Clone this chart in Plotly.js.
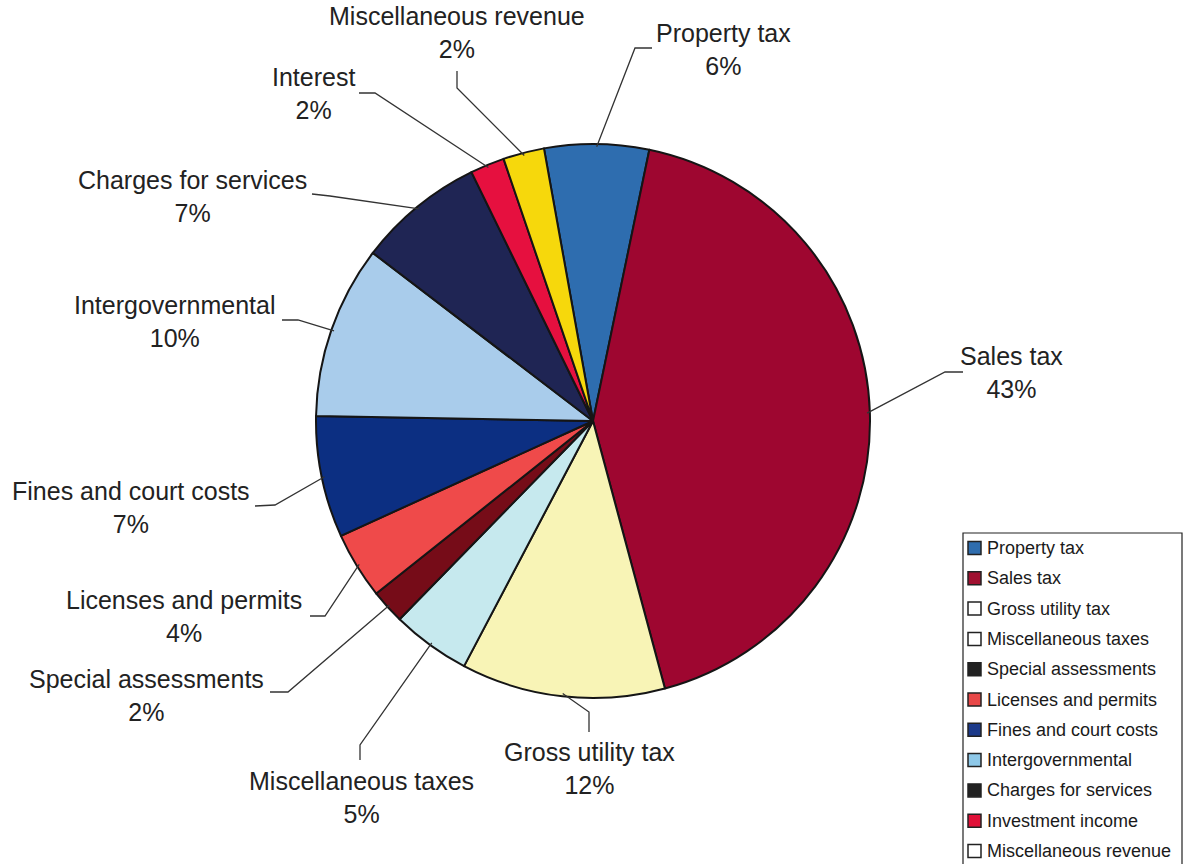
<!DOCTYPE html>
<html><head><meta charset="utf-8">
<script src="https://cdn.plot.ly/plotly-3.0.1.min.js"></script>
<style>html,body{margin:0;padding:0;background:#fff}</style>
</head><body><div id="chart" style="width:1187px;height:864px"></div>
<script>
// ---- data ----
const categories = ["Property tax","Sales tax","Gross utility tax","Miscellaneous taxes","Special assessments","Licenses and permits","Fines and court costs","Intergovernmental","Charges for services","Interest","Miscellaneous revenue"];
const values = [6.1, 42.6, 11.9, 4.6, 2.0, 3.9, 7.1, 10.1, 7.4, 2.0, 2.4];
const legendLabels = ["Property tax","Sales tax","Gross utility tax","Miscellaneous taxes","Special assessments","Licenses and permits","Fines and court costs","Intergovernmental","Charges for services","Investment income","Miscellaneous revenue"];

// ---- styles ----
const sliceColors = ["#2E6DAF","#9E0630","#F8F4B6","#C6E9EE","#760C18","#EF4A4A","#0C2F82","#A9CCEB","#1F2554","#E6103F","#F6D80C"];
const legendColors = ["#2F6DAE","#A01030","#FFFFFF","#FFFFFF","#222222","#E84848","#1C3A8A","#8EC8E8","#222222","#E01038","#FFFFFF"];

const W = 1187, H = 864;
const CX = 593, CY = 421, R = 277;
const ROT = -10.2;
const px = x => x / W, py = y => 1 - y / H;

// label layout (pixel positions of text centres and leader-line starts/elbows)
const labelPos = [[723,49],[1012,372],[589,768],[361,797],[146,695],[184,616],[131,508],[175,321],[192,196],[313,94],[457,33]];
const leaderStart = [[652,48],[963,372],[589,732],[360,760],[270,692],[310,616],[255,506],[282,320],[312,194],[359,93],[457,71]];
const leaderElbow = [[635,48],[945,372],[589,712],[360,745],[288,692],[325,616],[275,505],[298,320],[330,196],[375,93],[457,88]];

const total = values.reduce((a,b)=>a+b,0);
const annotations = [], shapes = [];
const txtFont = {family:"Liberation Sans, Arial, sans-serif", size:25, color:"#222"};

let ang = ROT;
values.forEach((v,i)=>{
  const span = v/total*360;
  const mid = (ang + span/2) * Math.PI/180;
  ang += span;
  const ex = CX + R*0.99*Math.sin(mid), ey = CY - R*0.99*Math.cos(mid);
  const pct = Math.round(v/total*100) + "%";
  annotations.push({xref:"paper",yref:"paper",x:px(labelPos[i][0]),y:py(labelPos[i][1]),
    xanchor:"center",yanchor:"middle",showarrow:false,align:"center",
    text:categories[i]+"<br>"+pct,font:txtFont});
  const s = leaderStart[i], e = leaderElbow[i];
  shapes.push({type:"path",xref:"paper",yref:"paper",
    path:`M${px(s[0])},${py(s[1])} L${px(e[0])},${py(e[1])} L${px(ex)},${py(ey)}`,
    line:{color:"#333",width:1.3}});
});

// legend (custom box)
const LX0 = 963, LY0 = 533, LX1 = 1182, LSTEP = 30.3, LFIRST = 548;
shapes.push({type:"rect",xref:"paper",yref:"paper",x0:px(LX0),x1:px(LX1),y0:py(LY0),y1:py(H+10),
  line:{color:"#222",width:1.2},fillcolor:"rgba(0,0,0,0)"});
legendLabels.forEach((lab,i)=>{
  const yc = LFIRST + i*LSTEP;
  shapes.push({type:"rect",xref:"paper",yref:"paper",x0:px(968),x1:px(981),y0:py(yc-6.5),y1:py(yc+6.5),
    line:{color:"#222",width:1.5},fillcolor:legendColors[i]});
  annotations.push({xref:"paper",yref:"paper",x:px(985),y:py(yc),xanchor:"left",yanchor:"middle",
    showarrow:false,text:lab,font:{family:"Liberation Sans, Arial, sans-serif",size:18,color:"#1a1a1a"}});
});

const trace = {
  type:"pie", labels:categories, values:values, sort:false, direction:"clockwise", rotation:ROT,
  marker:{colors:sliceColors, line:{color:"#151515", width:2}},
  textinfo:"none", hoverinfo:"label+percent", showlegend:false,
  domain:{x:[px(CX-R), px(CX+R)], y:[py(CY+R), py(CY-R)]}
};

Plotly.newPlot("chart",[trace],{
  width:W,height:H,margin:{l:0,r:0,t:0,b:0},paper_bgcolor:"#fff",plot_bgcolor:"#fff",
  showlegend:false,annotations:annotations,shapes:shapes
},{displayModeBar:false,staticPlot:true});
</script></body></html>
